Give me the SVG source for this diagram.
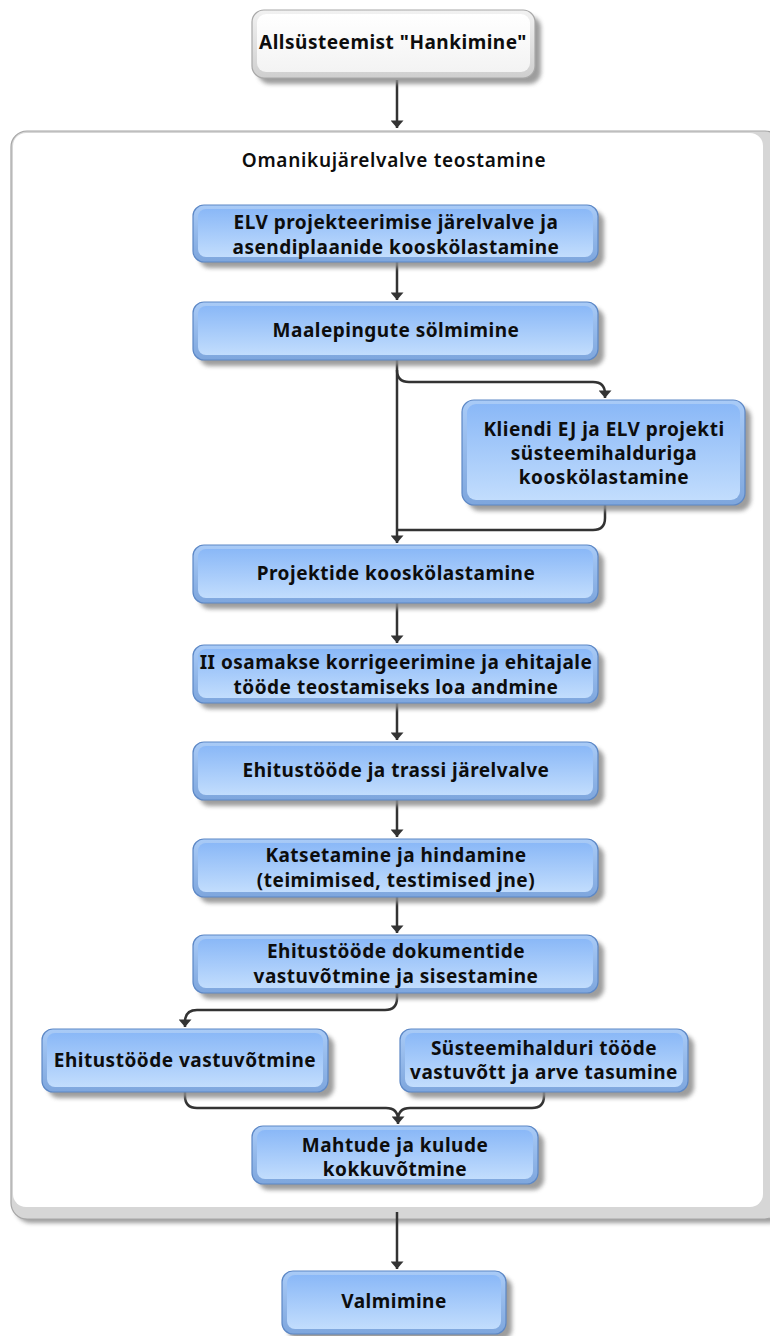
<svg xmlns="http://www.w3.org/2000/svg" width="770" height="1336" viewBox="0 0 770 1336">
  <defs>
    <linearGradient id="rimBlue" x1="0" y1="0" x2="0" y2="1">
      <stop offset="0" stop-color="#a9cbf7"/>
      <stop offset="1" stop-color="#7ea6dd"/>
    </linearGradient>
    <linearGradient id="faceBlue" x1="0" y1="0" x2="0" y2="1">
      <stop offset="0" stop-color="#8ab8f7"/>
      <stop offset="1" stop-color="#c2ddfd"/>
    </linearGradient>
    <linearGradient id="rimGrey" x1="0" y1="0" x2="0" y2="1">
      <stop offset="0" stop-color="#f2f2f2"/>
      <stop offset="1" stop-color="#cfcfcf"/>
    </linearGradient>
    <linearGradient id="faceWhite" x1="0" y1="0" x2="0" y2="1">
      <stop offset="0" stop-color="#ffffff"/>
      <stop offset="1" stop-color="#f3f3f3"/>
    </linearGradient>
    <filter id="soft" x="-10%" y="-20%" width="130%" height="150%">
      <feGaussianBlur stdDeviation="2"/>
    </filter>
    <marker id="arrDown" viewBox="0 0 13 10" refX="6.5" refY="9" markerWidth="13" markerHeight="10" markerUnits="userSpaceOnUse" orient="0">
      <path d="M0,1.5 L13,1.5 L6.5,9 Z" fill="#333"/>
    </marker>
  </defs>
  <style>
    .shadow { fill: #8c8c8c; filter: url(#soft); opacity: 0.85; }
    .rim { fill: url(#rimBlue); stroke: #5d88c6; stroke-width: 1.2; }
    .face { fill: url(#faceBlue); }
    .rimW { fill: url(#rimGrey); stroke: #a8a8a8; stroke-width: 1.2; }
    .faceW { fill: url(#faceWhite); }
    .lbl { font-family: "Noto Sans", "Open Sans", "Liberation Sans", sans-serif; font-weight: bold; font-size: 19px; letter-spacing: 0.5px; fill: #0d0d0d; text-anchor: middle; }
    .ttl { font-family: "Noto Sans", "Open Sans", "Liberation Sans", sans-serif; font-weight: 600; font-size: 19px; letter-spacing: 0.7px; fill: #0d0d0d; text-anchor: middle; }
    .con { fill: none; stroke: #333; stroke-width: 2.5; }
    .arrow { marker-end: url(#arrDown); }
  </style>

  <rect width="770" height="1336" fill="#ffffff"/>

  <!-- container frame -->
  <g id="container">
    <rect x="15" y="135" width="770" height="1088" rx="16" class="shadow"/>
    <rect x="11" y="131" width="770" height="1088" rx="16" fill="#d6d6d6" stroke="#a5a5a5" stroke-width="1.2"/>
    <rect x="13" y="133" width="750" height="1074" rx="13" fill="#ffffff"/>
    <text x="394" y="167" class="ttl">Omanikujärelvalve teostamine</text>
  </g>

  <!-- connectors -->
  <g id="connectors">
    <path class="con arrow" d="M397,80 V128"/>
    <path class="con arrow" d="M397,262 V300"/>
    <path class="con arrow" d="M397,360 V543"/>
    <path class="con arrow" d="M397,370 Q397,382 409,382 H593 Q605,382 605,394 V398"/>
    <path class="con" d="M605,505 V518 Q605,530 593,530 H397"/>
    <path class="con arrow" d="M397,603 V643"/>
    <path class="con arrow" d="M397,703 V740"/>
    <path class="con arrow" d="M397,800 V837"/>
    <path class="con arrow" d="M397,897 V933"/>
    <path class="con arrow" d="M397,993 V998 Q397,1010 385,1010 H197 Q185,1010 185,1022 V1027"/>
    <path class="con" d="M185,1092 V1096 Q185,1108 197,1108 H386 Q398,1108 398,1120"/>
    <path class="con arrow" d="M544,1092 V1096 Q544,1108 532,1108 H410 Q398,1108 398,1120 V1124"/>
    <path class="con arrow" d="M397,1212 V1269"/>
  </g>

  <!-- nodes -->
  <g id="n-hankimine">
    <rect x="258" y="16" width="283" height="68" rx="12" class="shadow"/>
    <rect x="252" y="10" width="283" height="68" rx="12" class="rimW"/>
    <rect x="257" y="14" width="273" height="58" rx="9" class="faceW"/>
    <text x="393" y="49" class="lbl">Allsüsteemist "Hankimine"</text>
  </g>

  <g id="n-elv">
    <rect x="199" y="211" width="405" height="57" rx="11" class="shadow"/>
    <rect x="193" y="205" width="405" height="57" rx="11" class="rim"/>
    <rect x="198" y="209" width="395" height="48" rx="8" class="face"/>
    <text x="396" y="229" class="lbl">ELV projekteerimise järelvalve ja</text>
    <text x="396" y="254" class="lbl">asendiplaanide kooskölastamine</text>
  </g>

  <g id="n-maalepingud">
    <rect x="199" y="308" width="405" height="58" rx="11" class="shadow"/>
    <rect x="193" y="302" width="405" height="58" rx="11" class="rim"/>
    <rect x="198" y="306" width="395" height="49" rx="8" class="face"/>
    <text x="396" y="337" class="lbl">Maalepingute sölmimine</text>
  </g>

  <g id="n-kliendi">
    <rect x="468" y="406" width="283" height="105" rx="12" class="shadow"/>
    <rect x="462" y="400" width="283" height="105" rx="12" class="rim"/>
    <rect x="467" y="404" width="273" height="96" rx="9" class="face"/>
    <text x="604" y="436" class="lbl">Kliendi EJ ja ELV projekti</text>
    <text x="604" y="460" class="lbl">süsteemihalduriga</text>
    <text x="604" y="484" class="lbl">kooskölastamine</text>
  </g>

  <g id="n-projektid">
    <rect x="199" y="551" width="405" height="58" rx="11" class="shadow"/>
    <rect x="193" y="545" width="405" height="58" rx="11" class="rim"/>
    <rect x="198" y="549" width="395" height="49" rx="8" class="face"/>
    <text x="396" y="580" class="lbl">Projektide kooskölastamine</text>
  </g>

  <g id="n-osamakse">
    <rect x="199" y="651" width="405" height="58" rx="11" class="shadow"/>
    <rect x="193" y="645" width="405" height="58" rx="11" class="rim"/>
    <rect x="198" y="649" width="395" height="49" rx="8" class="face"/>
    <text x="396" y="669" class="lbl">II osamakse korrigeerimine ja ehitajale</text>
    <text x="396" y="694" class="lbl">tööde teostamiseks loa andmine</text>
  </g>

  <g id="n-jarelvalve">
    <rect x="199" y="748" width="405" height="58" rx="11" class="shadow"/>
    <rect x="193" y="742" width="405" height="58" rx="11" class="rim"/>
    <rect x="198" y="746" width="395" height="49" rx="8" class="face"/>
    <text x="396" y="777" class="lbl">Ehitustööde ja trassi järelvalve</text>
  </g>

  <g id="n-katsetamine">
    <rect x="199" y="845" width="405" height="58" rx="11" class="shadow"/>
    <rect x="193" y="839" width="405" height="58" rx="11" class="rim"/>
    <rect x="198" y="843" width="395" height="49" rx="8" class="face"/>
    <text x="396" y="862" class="lbl">Katsetamine ja hindamine</text>
    <text x="396" y="887" class="lbl">(teimimised, testimised jne)</text>
  </g>

  <g id="n-dokumendid">
    <rect x="199" y="941" width="405" height="58" rx="11" class="shadow"/>
    <rect x="193" y="935" width="405" height="58" rx="11" class="rim"/>
    <rect x="198" y="939" width="395" height="49" rx="8" class="face"/>
    <text x="396" y="958" class="lbl">Ehitustööde dokumentide</text>
    <text x="396" y="983" class="lbl">vastuvõtmine ja sisestamine</text>
  </g>

  <g id="n-vastuvotmine">
    <rect x="48" y="1035" width="286" height="63" rx="11" class="shadow"/>
    <rect x="42" y="1029" width="286" height="63" rx="11" class="rim"/>
    <rect x="47" y="1033" width="276" height="54" rx="8" class="face"/>
    <text x="185" y="1067" class="lbl">Ehitustööde vastuvõtmine</text>
  </g>

  <g id="n-systeemihaldur">
    <rect x="406" y="1035" width="288" height="63" rx="11" class="shadow"/>
    <rect x="400" y="1029" width="288" height="63" rx="11" class="rim"/>
    <rect x="405" y="1033" width="278" height="54" rx="8" class="face"/>
    <text x="544" y="1055" class="lbl">Süsteemihalduri tööde</text>
    <text x="544" y="1079" class="lbl">vastuvõtt ja arve tasumine</text>
  </g>

  <g id="n-mahtudd">
    <rect x="258" y="1132" width="286" height="58" rx="11" class="shadow"/>
    <rect x="252" y="1126" width="286" height="58" rx="11" class="rim"/>
    <rect x="257" y="1130" width="276" height="49" rx="8" class="face"/>
    <text x="395" y="1152" class="lbl">Mahtude ja kulude</text>
    <text x="395" y="1176" class="lbl">kokkuvõtmine</text>
  </g>

  <g id="n-valmimine">
    <rect x="288" y="1277" width="224" height="63" rx="11" class="shadow"/>
    <rect x="282" y="1271" width="224" height="63" rx="11" class="rim"/>
    <rect x="287" y="1275" width="214" height="54" rx="8" class="face"/>
    <text x="394" y="1308" class="lbl">Valmimine</text>
  </g>
</svg>
